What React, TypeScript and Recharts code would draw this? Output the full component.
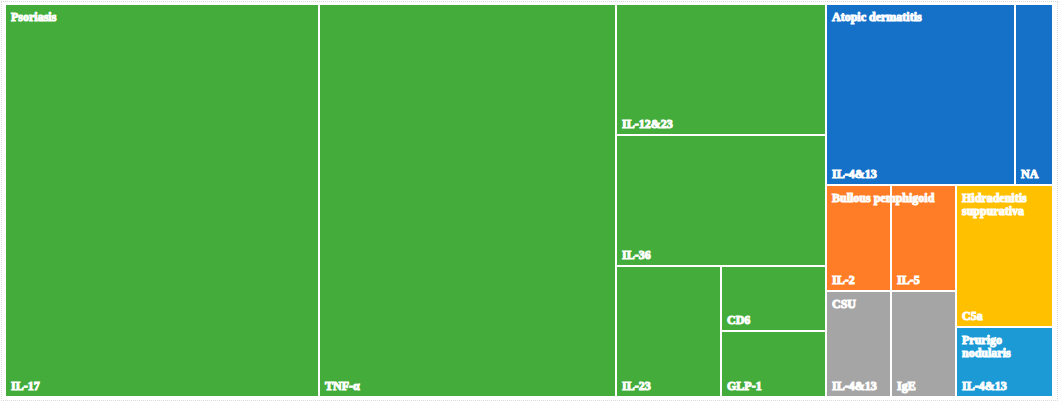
import React from 'react';
import { Treemap, Text } from 'recharts';

const groupNames = ['Psoriasis', 'Atopic dermatitis', 'Bullous pemphigoid', 'CSU', 'Hidradenitis suppurativa', 'Prurigo nodularis'];
const groupColors = ['#43ac3b', '#1570c8', '#fe7d26', '#a5a5a5', '#ffc000', '#1b9ad6'];

const psoriasisTargets = ['IL-17', 'TNF-α', 'IL-12&23', 'IL-36', 'IL-23', 'CD6', 'GLP-1'];
const psoriasisCounts = [18, 17, 4, 4, 2, 1, 1];
const atopicTargets = ['IL-4&13', 'NA'];
const atopicCounts = [5, 1];
const bullousTargets = ['IL-2', 'IL-5'];
const bullousCounts = [1, 1];
const csuTargets = ['IL-4&13', 'IgE'];
const csuCounts = [1, 1];
const hidradenitisTargets = ['C5a'];
const hidradenitisCounts = [2];
const prurigoTargets = ['IL-4&13'];
const prurigoCounts = [1];

const groupTargets = [psoriasisTargets, atopicTargets, bullousTargets, csuTargets, hidradenitisTargets, prurigoTargets];
const groupCounts = [psoriasisCounts, atopicCounts, bullousCounts, csuCounts, hidradenitisCounts, prurigoCounts];

const data = groupNames.map((g, gi) => ({
  name: g,
  colorIndex: gi,
  children: groupTargets[gi].map((t, i) => ({ name: t, value: groupCounts[gi][i], colorIndex: gi })),
}));

const FONT = '"Liberation Serif", "Times New Roman", serif';
const labelStyle = { fontFamily: FONT, fontSize: '12px', fontWeight: 'bold' as const };

function renderCell(props: any) {
  const { x, y, width, height, depth, index, root, name, colorIndex } = props;
  if (!depth) return <g />;
  const fill = groupColors[colorIndex];
  if (depth === 1) {
    return <rect x={x} y={y} width={width} height={height} fill={fill} stroke="#fff" strokeWidth={2} />;
  }
  const isLast = root && root.children && index === root.children.length - 1;
  return (
    <g>
      <rect x={x} y={y} width={width} height={height} fill={fill} stroke="#fff" strokeWidth={2} />
      <text x={x + 6} y={y + height - 7} fill="#fff" style={labelStyle}>
        {name}
      </text>
      {isLast ? (
        <Text
          x={root.x + 6}
          y={root.y + 8.5}
          width={root.width - 10}
          verticalAnchor="start"
          lineHeight="1.12em"
          fill="#fff"
          style={labelStyle}
        >
          {root.name}
        </Text>
      ) : null}
    </g>
  );
}

export default function App() {
  return (
    <div style={{ position: 'absolute', left: 0, top: 0, width: 1059, height: 402, background: '#fff' }}>
      <div
        style={{
          position: 'absolute',
          left: 1,
          top: 1,
          width: 1055,
          height: 398,
          border: '1px dotted #d9d9d9',
        }}
      />
      <div style={{ position: 'absolute', left: 5, top: 4 }}>
        <Treemap
          width={1048}
          height={393}
          data={data}
          dataKey="value"
          nameKey="name"
          aspectRatio={1}
          stroke="#fff"
          isAnimationActive={false}
          content={renderCell as any}
        />
      </div>
    </div>
  );
}
